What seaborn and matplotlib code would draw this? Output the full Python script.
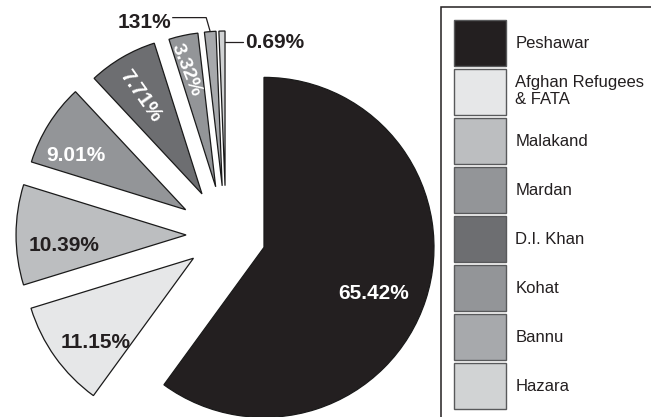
import matplotlib
matplotlib.use("Agg")
import numpy as np
import matplotlib.pyplot as plt
import seaborn as sns
from matplotlib.patches import Patch

sns.set_theme(style="white")
plt.rcParams["font.family"] = ["Liberation Sans", "DejaVu Sans"]

# Share of cases by region (%), clockwise from 12 o'clock
regions = ["Peshawar", "Afghan Refugees\n& FATA", "Malakand", "Mardan",
           "D.I. Khan", "Kohat", "Bannu", "Hazara"]
shares = [65.42, 11.15, 10.39, 9.01, 7.71, 3.32, 1.31, 0.69]
share_labels = ["65.42%", "11.15%", "10.39%", "9.01%", "7.71%", "3.32%", "131%", "0.69%"]

palette = sns.color_palette(["#231f20", "#e6e7e8", "#bcbec0", "#939598",
                             "#6d6e71", "#939598", "#a7a9ac", "#d1d3d4"])

# wedge styling
explode = [0.235, 0.235, 0.235, 0.28, 0.28, 0.29, 0.29, 0.29]
radius_scale = [1.0, 1.0, 1.0, 0.95, 0.93, 0.91, 0.91, 0.91]

fig = plt.figure(figsize=(6.51, 4.17), dpi=100)
ax = fig.add_axes([0, 0, 1, 1])

wedges, _ = ax.pie(shares, colors=palette, explode=explode, startangle=90,
                   counterclock=False, radius=1.0,
                   wedgeprops=dict(edgecolor="#1a1a1a", linewidth=0.9))
for w, s in zip(wedges, radius_scale):
    w.set_radius(s)

# one data unit = 170 px; pie centre placed at (226, 235) px from top-left
px = 1 / 170
ax.set_xlim(-226 * px, (651 - 226) * px)
ax.set_ylim(-(417 - 235) * px, 235 * px)
ax.set_aspect("auto")
ax.axis("off")

label_size = 15
ink = "#231f20"

# labels inside the wedges: (index, text colour, distance, angle tweak, rotation, size)
inside = [
    (0, "white", 0.70, -5, 0, label_size),
    (1, ink, 0.76, 5, 0, label_size),
    (2, ink, 0.72, 5, 0, label_size),
    (3, "white", 0.72, 6, 0, label_size),
    (4, "white", 0.68, 2, -55, label_size),
    (5, "white", 0.71, 2, -68, 14),
]
for i, col, dist, dth, rot, size in inside:
    w = wedges[i]
    mid = np.deg2rad((w.theta1 + w.theta2) / 2 + dth)
    cx, cy = w.center
    ax.text(cx + dist * np.cos(mid), cy + dist * np.sin(mid), share_labels[i],
            color=col, ha="center", va="center", rotation=rot,
            fontsize=size, fontweight="bold")

# Bannu: leader up and to the left
w = wedges[6]
mid = np.deg2rad((w.theta1 + w.theta2) / 2)
cx, cy = w.center
tip = np.array([cx + w.r * np.cos(mid), cy + w.r * np.sin(mid)])
elbow = tip + np.array([-4 * px, 14 * px])
end = elbow + np.array([-34 * px, 0])
ax.plot([tip[0], elbow[0], end[0]], [tip[1], elbow[1], end[1]],
        color=ink, lw=0.9, solid_capstyle="butt")
ax.text(end[0] - 1 * px, end[1] - 5 * px, share_labels[6], ha="right", va="center",
        color=ink, fontsize=label_size, fontweight="bold")

# Hazara: short horizontal leader to the right
w = wedges[7]
cx, cy = w.center
th = np.deg2rad(w.theta1)
start = np.array([cx + (w.r - 11 * px) * np.cos(th), cy + (w.r - 11 * px) * np.sin(th)])
stop = start + np.array([18 * px, 0])
ax.plot([start[0], stop[0]], [start[1], stop[1]], color=ink, lw=0.9)
ax.text(stop[0] + 2 * px, stop[1], share_labels[7], ha="left", va="center",
        color=ink, fontsize=label_size, fontweight="bold")

handles = [Patch(facecolor=c, edgecolor="#58595b", linewidth=1.0) for c in palette]
leg = fig.legend(handles, regions, loc="upper left",
                 bbox_to_anchor=(441 / 651, 1 - 7 / 417), borderaxespad=0,
                 fontsize=12, frameon=True, fancybox=False, framealpha=1,
                 edgecolor=ink, borderpad=0.8, handlelength=3.12,
                 handleheight=3.87, labelspacing=0.18, handletextpad=0.55)
leg.get_frame().set_linewidth(1.1)
for t in leg.get_texts():
    t.set_color(ink)
    t.set_linespacing(1.15)

fig.savefig("out.png", dpi=100, facecolor="white")
